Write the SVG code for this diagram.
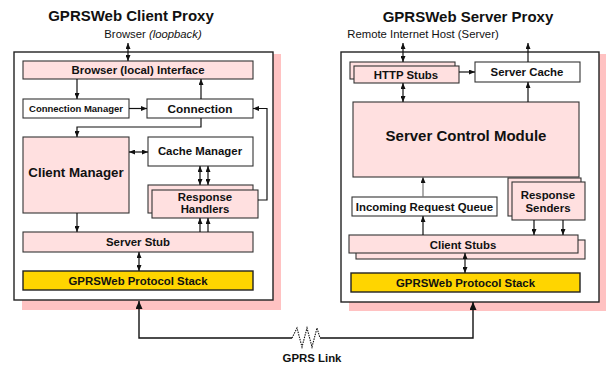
<svg xmlns="http://www.w3.org/2000/svg" width="606" height="367" viewBox="0 0 606 367">
  <style>
    text { font-family: "Liberation Sans", Arial, Helvetica, sans-serif; fill: #111; text-anchor: middle; }
    .b { font-weight: bold; font-size: 11.4px; }
    .title { font-weight: bold; font-size: 15px; }
    .lbl { font-size: 11.3px; }
    .shadow { fill: #ffc2c2; stroke: none; }
    .panel { fill: #fff; stroke: #222; stroke-width: 1.4; }
    .pink { fill: #ffe0e0; stroke: #333; stroke-width: 1.1; }
    .white { fill: #fff; stroke: #333; stroke-width: 1.1; }
    .gold { fill: #ffd500; stroke: #222; stroke-width: 1.4; }
    .c { fill: none; stroke: #111; stroke-width: 1.2; }
    .one { marker-end: url(#ah); }
    .two { marker-start: url(#ah); marker-end: url(#ah); }
    .big { fill: none; stroke: #111; stroke-width: 1.4; marker-end: url(#ahBig); }
  </style>
  <defs>
    <marker id="ah" markerUnits="userSpaceOnUse" markerWidth="6" markerHeight="5" refX="6" refY="2.5" orient="auto-start-reverse">
      <path d="M0,0 L6,2.5 L0,5 z" fill="#111"/>
    </marker>
    <marker id="ahBig" markerUnits="userSpaceOnUse" markerWidth="8" markerHeight="7" refX="8" refY="3.5" orient="auto">
      <path d="M0,0 L8,3.5 L0,7 z" fill="#111"/>
    </marker>
  </defs>

  <!-- Client proxy panel -->
  <g id="client-proxy">
    <text class="title" x="131" y="21">GPRSWeb Client Proxy</text>
    <text class="lbl" x="153" y="38">Browser <tspan font-style="italic">(loopback)</tspan></text>
    <rect class="shadow" x="22" y="54" width="259" height="256"/>
    <rect class="panel" x="14" y="52" width="259" height="248"/>
  </g>
  <g id="browser-interface">
    <rect class="pink" x="23" y="61" width="230" height="18"/>
    <text class="b" x="138" y="74">Browser (local) Interface</text>
  </g>
  <g id="connection-manager">
    <rect class="white" x="23" y="99" width="106" height="19"/>
    <text class="b" x="76" y="112" style="font-size:9.5px">Connection Manager</text>
  </g>
  <g id="connection">
    <rect class="white" x="147" y="99" width="106" height="19"/>
    <text class="b" x="200" y="113" style="font-size:11.8px">Connection</text>
  </g>
  <g id="client-manager">
    <rect class="pink" x="23" y="137" width="106" height="76"/>
    <text class="b" x="76" y="177" style="font-size:13.3px">Client Manager</text>
  </g>
  <g id="cache-manager">
    <rect class="white" x="148" y="137" width="105" height="29"/>
    <text class="b" x="200" y="155">Cache Manager</text>
  </g>
  <g id="response-handlers">
    <rect class="pink" x="148" y="185" width="105" height="28"/>
    <rect class="pink" x="152" y="190" width="106" height="28"/>
    <text class="b" x="205" y="201">Response</text>
    <text class="b" x="205" y="213">Handlers</text>
  </g>
  <g id="server-stub">
    <rect class="pink" x="23" y="232" width="230" height="20"/>
    <text class="b" x="138" y="246">Server Stub</text>
  </g>
  <g id="client-protocol-stack">
    <rect class="gold" x="23" y="271" width="230" height="19"/>
    <text class="b" x="138" y="285">GPRSWeb Protocol Stack</text>
  </g>

  <!-- Server proxy panel -->
  <g id="server-proxy">
    <text class="title" x="468" y="22">GPRSWeb Server Proxy</text>
    <text class="lbl" x="423" y="38">Remote Internet Host (Server)</text>
    <rect class="shadow" x="349" y="54" width="258" height="257"/>
    <rect class="panel" x="341" y="52" width="258" height="250"/>
  </g>
  <g id="http-stubs">
    <rect class="pink" x="350" y="62" width="105" height="17"/>
    <rect class="pink" x="354" y="66" width="105" height="17"/>
    <text class="b" x="406" y="79">HTTP Stubs</text>
  </g>
  <g id="server-cache">
    <rect class="white" x="475" y="62" width="105" height="20"/>
    <text class="b" x="527" y="76">Server Cache</text>
  </g>
  <g id="server-control-module">
    <rect class="pink" x="353" y="102" width="226" height="75"/>
    <text class="b" x="466" y="141" style="font-size:15px">Server Control Module</text>
  </g>
  <g id="incoming-request-queue">
    <rect class="white" x="352" y="197" width="145" height="19"/>
    <text class="b" x="424.5" y="210.5">Incoming Request Queue</text>
  </g>
  <g id="response-senders">
    <rect class="pink" x="508" y="178" width="73" height="38"/>
    <rect class="pink" x="512" y="182" width="73" height="38"/>
    <text class="b" x="548" y="199">Response</text>
    <text class="b" x="548" y="212">Senders</text>
  </g>
  <g id="client-stubs">
    <rect class="pink" x="356" y="240" width="229" height="19"/>
    <rect class="pink" x="349" y="235" width="229" height="18"/>
    <text class="b" x="463" y="248.5">Client Stubs</text>
  </g>
  <g id="server-protocol-stack">
    <rect class="gold" x="351" y="273" width="229" height="19"/>
    <text class="b" x="465.5" y="287">GPRSWeb Protocol Stack</text>
  </g>

  <!-- GPRS link label -->
  <g id="gprs-link">
    <text class="b" x="312" y="362">GPRS Link</text>
  </g>

  <!-- Connectors -->
  <g id="connectors">
    <!-- client side -->
    <path class="c two" d="M128,43 V61"/>
    <path class="c one" d="M77,79 V99"/>
    <path class="c one" d="M201,99 V79"/>
    <path class="c one" d="M129,108.5 H147"/>
    <path class="c one" d="M201,118 V127 H77 V137"/>
    <path class="c two" d="M129,152 H148"/>
    <path class="c two" d="M200,166 V185"/>
    <path class="c two" d="M208,166 V185"/>
    <path class="c one" d="M258,200 H267 V108.5 H253"/>
    <path class="c one" d="M77,213 V232"/>
    <path class="c one" d="M200,232 V218"/>
    <path class="c one" d="M208,232 V218"/>
    <path class="c two" d="M139,252 V271"/>
    <!-- server side -->
    <path class="c two" d="M403,43 V62"/>
    <path class="c two" d="M403,83 V102"/>
    <path class="c one" d="M459,72 H475"/>
    <path class="c one" d="M528,62 V43"/>
    <path class="c one" d="M528,102 V82"/>
    <path class="c one" d="M423,197 V177" style="stroke:#777"/>
    <path class="c one" d="M423,235 V216"/>
    <path class="c one" d="M534,220 V235"/>
    <path class="c one" d="M563,220 V235"/>
    <path class="c two" d="M465,253 V273"/>
    <!-- GPRS link between the two stacks -->
    <path class="big" d="M292,338 H139 V301"/>
    <path class="big" d="M320,338 H473 V302"/>
    <path d="M292,338 L297,328 L302,347 L307,328 L312,347 L317,328 L320,338" fill="none" stroke="#111" stroke-width="1.1" stroke-dasharray="1.5,1"/>
  </g>
</svg>
